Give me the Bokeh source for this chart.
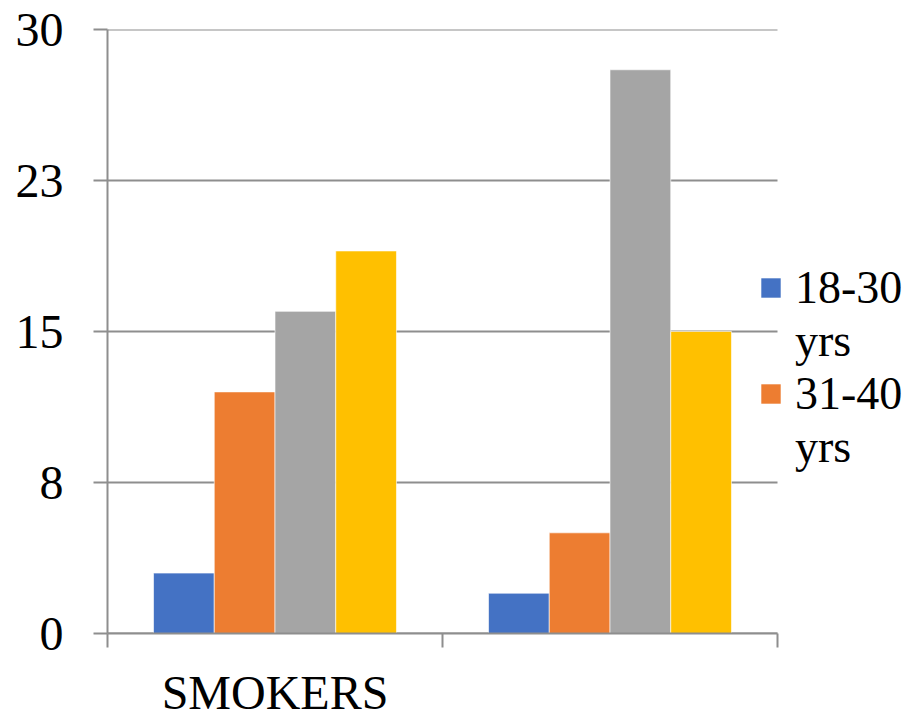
import numpy as np
from bokeh.plotting import figure
from bokeh.models import (Range1d, FixedTicker, LinearAxis, Legend, LegendItem,
                          ColumnDataSource)
from bokeh.embed import file_html
from bokeh.resources import INLINE

# ---- data ----
categories = ["SMOKERS", ""]
series_names = ["18-30 yrs", "31-40 yrs", "41-50 yrs", "51-60 yrs"]
series_values = [
    [3, 2],     # 18-30 yrs
    [12, 5],    # 31-40 yrs
    [16, 28],   # 41-50 yrs
    [19, 15],   # 51-60 yrs
]
series_colors = ["#4472C4", "#ED7D31", "#A5A5A5", "#FFC000"]
legend_shown = [True, True, False, False]
y_ticks = [0, 7.5, 15, 22.5, 30]
y_tick_labels = ["0", "8", "15", "23", "30"]

FONT = "Liberation Serif"
GRID = "#8E8E8E"

# ---- layout ----
W, H = 916, 721
PLOT_L, PLOT_R, PLOT_T, PLOT_B = 107, 777, 29, 633

n_cat = len(categories)
n_ser = len(series_values)
bar_w = 0.1813
x_end = n_cat * (W - PLOT_L) / (PLOT_R - PLOT_L)   # room on the right for the legend

p = figure(width=W, height=H, output_backend="svg", toolbar_location=None,
           x_range=Range1d(0, x_end), y_range=Range1d(0, 30),
           x_axis_type=None, y_axis_type=None,
           min_border_left=PLOT_L, min_border_right=0,
           min_border_top=PLOT_T, min_border_bottom=H - PLOT_B)
p.outline_line_color = None
p.background_fill_color = "white"
p.border_fill_color = "white"
p.xgrid.visible = False
p.ygrid.visible = False

# horizontal gridlines across the category area only
p.segment(x0=[0] * len(y_ticks), x1=[n_cat] * len(y_ticks), y0=y_ticks, y1=y_ticks,
          line_color=GRID, line_width=2)

renderers = []
centers = np.arange(n_cat) + 0.5
for k in range(n_ser):
    off = (k - (n_ser - 1) / 2) * bar_w
    src = ColumnDataSource(dict(x=list(centers + off), top=series_values[k]))
    r = p.vbar(x="x", top="top", bottom=0, width=bar_w, source=src,
               fill_color=series_colors[k], line_color="white", line_width=0.6)
    renderers.append(r)

# y axis
yaxis = LinearAxis(ticker=FixedTicker(ticks=y_ticks, minor_ticks=[]))
yaxis.major_label_overrides = {t: l for t, l in zip(y_ticks, y_tick_labels)}
yaxis.axis_line_color = GRID
yaxis.axis_line_width = 2
yaxis.major_tick_line_color = GRID
yaxis.major_tick_line_width = 2
yaxis.major_tick_out = 14
yaxis.major_tick_in = 0
yaxis.minor_tick_line_color = None
yaxis.major_label_text_font = FONT
yaxis.major_label_text_font_size = "48px"
yaxis.major_label_text_color = "black"
yaxis.major_label_standoff = 30
p.add_layout(yaxis, "left")

# x axis: labels at category centers, ticks at category boundaries
xaxis = LinearAxis(ticker=FixedTicker(ticks=list(centers),
                                      minor_ticks=list(range(n_cat + 1))))
xaxis.bounds = (0, n_cat)
xaxis.major_label_overrides = {float(c): lab for c, lab in zip(centers, categories)}
xaxis.axis_line_color = GRID
xaxis.axis_line_width = 2
xaxis.major_tick_line_color = None
xaxis.major_tick_out = 0
xaxis.major_tick_in = 0
xaxis.minor_tick_line_color = GRID
xaxis.minor_tick_line_width = 2
xaxis.minor_tick_out = 14
xaxis.minor_tick_in = 0
xaxis.major_label_text_font = FONT
xaxis.major_label_text_font_size = "48px"
xaxis.major_label_text_color = "black"
xaxis.major_label_standoff = 18
p.add_layout(xaxis, "below")

# legend: the reference wraps each label onto two lines ("18-30" / "yrs")
blank = p.vbar(x=[], top=[], width=bar_w, fill_alpha=0, line_alpha=0)
items = []
for k in range(n_ser):
    if legend_shown[k]:
        first, second = series_names[k].split(" ", 1)
        items.append(LegendItem(label=first, renderers=[renderers[k]]))
        items.append(LegendItem(label=second, renderers=[blank]))
legend = Legend(items=items, location=(651, 160))
legend.border_line_color = None
legend.background_fill_alpha = 0
legend.padding = 0
legend.margin = 0
legend.spacing = 0
legend.glyph_width = 25
legend.glyph_height = 25
legend.label_height = 52
legend.label_standoff = 12
legend.label_text_font = FONT
legend.label_text_font_size = "46px"
legend.label_text_color = "black"
p.add_layout(legend, "center")

with open("out.html", "w") as f:
    f.write(file_html(p, INLINE))
